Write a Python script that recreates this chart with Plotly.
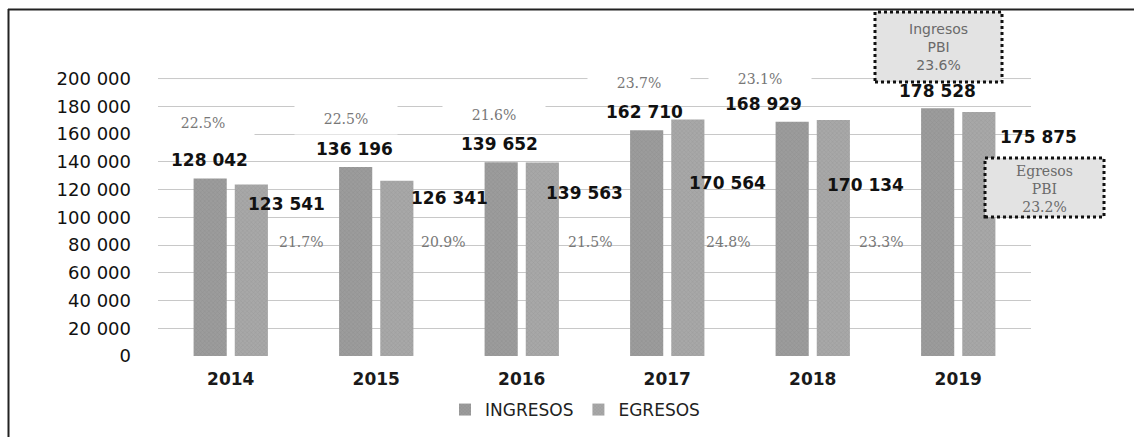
import plotly.graph_objects as go

# ---------------- data ----------------
years = ["2014", "2015", "2016", "2017", "2018", "2019"]
ingresos = [128042, 136196, 139652, 162710, 168929, 178528]
egresos = [123541, 126341, 139563, 170564, 170134, 175875]
ingresos_pbi = [22.5, 22.5, 21.6, 23.7, 23.1, 23.6]
egresos_pbi = [21.7, 20.9, 21.5, 24.8, 23.3, 23.2]
y_ticks = [0, 20000, 40000, 60000, 80000, 100000, 120000, 140000, 160000, 180000, 200000]
series_names = ["INGRESOS", "EGRESOS"]

# ---------------- layout geometry ----------------
W, H = 1134, 437
L, R, T, B = 158, 103, 78, 81
PW, PH = W - L - R, H - T - B


def px(x):
    return (x - L) / PW


def py(y):
    return (H - B - y) / PH


def fmt(v):
    return f"{v:,}".replace(",", " ")


# label offsets (pixels) relative to category centre / bar top
ing_dx = [-21, -22, -22, -23, -49, -21]
ing_dy = [18, 18, 18, 18, 18, 17]
egr_dx = [56, 73, 63, 60, 53, 80]
egr_dy = [-19, -17, -31, -64, -65, -25]
ingp_dx = [-28, -30, -28, -28, -53]
ingp_dy = [55, 48, 47, 47, 43]
egrp_dx = [70, 67, 68, 61, 68]

fig = go.Figure()
fig.add_trace(go.Bar(
    x=years, y=ingresos, name=series_names[0],
    marker=dict(color="#9c9c9c", line=dict(width=0),
                pattern=dict(shape="x", size=3, fgcolor="#858585", solidity=0.35)),
))
fig.add_trace(go.Bar(
    x=years, y=egresos, name=series_names[1],
    marker=dict(color="#a8a8a8", line=dict(width=0),
                pattern=dict(shape="x", size=3, fgcolor="#8f8f8f", solidity=0.35)),
))

annotations = []
val_font = dict(family="DejaVu Sans", size=17, color="#111111", weight="bold")
pct_font = dict(family="DejaVu Serif", size=14, color="#777777")

for i, yr in enumerate(years):
    annotations.append(dict(x=i, y=ingresos[i], xref="x", yref="y", text=fmt(ingresos[i]),
                            showarrow=False, xshift=ing_dx[i], yshift=ing_dy[i],
                            font=val_font, xanchor="center", yanchor="middle"))
    annotations.append(dict(x=i, y=egresos[i], xref="x", yref="y", text=fmt(egresos[i]),
                            showarrow=False, xshift=egr_dx[i], yshift=egr_dy[i],
                            font=val_font, xanchor="center", yanchor="middle"))

for i in range(5):
    annotations.append(dict(x=i, y=ingresos[i], xref="x", yref="y",
                            text=f"{ingresos_pbi[i]:.1f}%", showarrow=False,
                            xshift=ingp_dx[i], yshift=ingp_dy[i], font=pct_font,
                            bgcolor="white", width=100, height=28,
                            xanchor="center", yanchor="middle"))
    annotations.append(dict(x=i, y=py(242), xref="x", yref="paper",
                            text=f"{egresos_pbi[i]:.1f}%", showarrow=False,
                            xshift=egrp_dx[i], font=pct_font,
                            xanchor="center", yanchor="middle"))

box_font = dict(family="DejaVu Sans", size=14, color="#6a6a6a")
annotations.append(dict(x=px(938), y=py(47), xref="paper", yref="paper",
                        text=f"Ingresos<br>PBI<br>{ingresos_pbi[5]:.1f}%", showarrow=False,
                        font=box_font, align="center", xanchor="center", yanchor="middle"))
annotations.append(dict(x=px(1044), y=py(189), xref="paper", yref="paper",
                        text=f"Egresos<br>PBI<br>{egresos_pbi[5]:.1f}%", showarrow=False,
                        font=dict(family="DejaVu Serif", size=14, color="#6a6a6a"),
                        align="center", xanchor="center", yanchor="middle"))

shapes = [
    # top gridline (at the axis maximum)
    dict(type="line", xref="paper", yref="y", x0=0, x1=1, y0=y_ticks[-1], y1=y_ticks[-1],
         line=dict(color="#c8c8c8", width=1), layer="below"),
    dict(type="rect", xref="paper", yref="paper", x0=px(875), x1=px(1002), y0=py(82), y1=py(12),
         fillcolor="#e3e3e3", line=dict(color="#111111", width=3, dash="dot"), layer="above"),
    dict(type="rect", xref="paper", yref="paper", x0=px(985), x1=px(1104), y0=py(217), y1=py(158),
         fillcolor="#e3e3e3", line=dict(color="#111111", width=3, dash="dot"), layer="above"),
    dict(type="line", xref="paper", yref="paper", x0=px(8), x1=px(1134), y0=py(9.5), y1=py(9.5),
         line=dict(color="#222222", width=2)),
    dict(type="line", xref="paper", yref="paper", x0=px(8.5), x1=px(8.5), y0=py(9), y1=py(437),
         line=dict(color="#222222", width=2)),
]

fig.update_layout(
    width=W, height=H,
    margin=dict(l=L, r=R, t=T, b=B, autoexpand=False),
    paper_bgcolor="white", plot_bgcolor="white",
    separators=". ",
    barmode="group", bargap=0.434, bargroupgap=0.195,
    showlegend=True,
    legend=dict(orientation="h", x=px(575), xanchor="center", y=py(410), yanchor="middle",
                font=dict(family="DejaVu Sans", size=17, color="#222222"),
                itemwidth=30, tracegroupgap=0),
    annotations=annotations,
    shapes=shapes,
    xaxis=dict(type="category", range=[-0.5, len(years) - 0.5], autorange=False,
               showgrid=False, showline=False, zeroline=False, ticks="",
               tickfont=dict(family="DejaVu Sans", size=17, color="#1a1a1a", weight="bold"),
               ticklabelstandoff=11),
    yaxis=dict(range=[0, 200400], autorange=False, tickvals=y_ticks, tickformat=",d",
               showgrid=True, gridcolor="#c8c8c8", gridwidth=1, zeroline=False, showline=False,
               tickfont=dict(family="DejaVu Sans", size=18, color="#111111"),
               ticklabelstandoff=26),
)

fig.write_html("out.html", config={"displayModeBar": False},
               post_script="document.body.style.margin='0';")
